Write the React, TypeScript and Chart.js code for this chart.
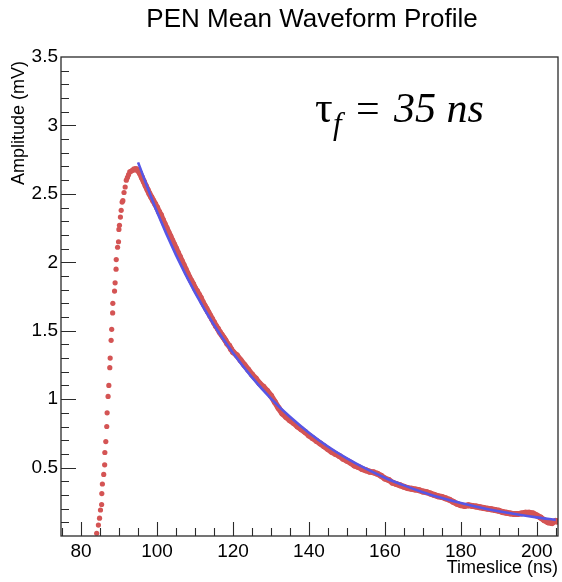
import React, { useEffect, useRef } from 'react';
import { Chart, registerables } from 'chart.js';

Chart.register(...registerables);

// ---- Data ----
// Rising edge and peak samples (ns, mV)
const riseX = [84.1, 84.55, 84.85, 85.1, 85.4, 85.45, 85.6, 85.95, 86.2, 86.25, 86.5, 86.75, 86.85, 87.1, 87.3, 87.55, 87.65, 87.9, 88.05, 88.3, 88.35, 88.8, 88.95, 89.2, 89.25, 89.6, 89.85, 89.95, 90.1, 90.35, 90.55, 90.8, 91.0, 91.3, 91.6, 91.9, 92.2, 92.5, 92.8, 93.1, 93.4, 93.7];
const riseY = [0.02, 0.08, 0.13, 0.19, 0.23, 0.31, 0.38, 0.45, 0.52, 0.61, 0.69, 0.80, 0.90, 1.02, 1.10, 1.23, 1.30, 1.43, 1.51, 1.63, 1.70, 1.79, 1.85, 1.95, 2.02, 2.11, 2.15, 2.24, 2.27, 2.33, 2.38, 2.44, 2.45, 2.51, 2.55, 2.60, 2.62, 2.64, 2.66, 2.665, 2.67, 2.675];

// Decay samples (ns, mV)
const decayX = [
  94, 94.5, 95, 95.5, 96, 96.5, 97, 97.5, 98, 98.5, 99, 99.5, 100,
  100.5, 101, 101.5, 102, 102.5, 103, 103.5, 104, 104.5, 105, 105.5, 106, 106.5, 107, 107.5, 108,
  108.5, 109, 109.5, 110, 110.5, 111, 111.5, 112, 112.5, 113, 113.5, 114, 114.5, 115, 115.5, 116,
  116.5, 117, 117.5, 118, 118.5, 119, 119.5, 120,
  121, 122, 123, 124, 125, 126, 127, 128, 129, 130, 131, 132, 133, 134, 135, 136, 137, 138, 139, 140,
  141, 142, 143, 144, 145, 146, 147, 148, 149, 150, 151, 152, 153, 154, 155, 156, 157, 158, 159, 160,
  161, 162, 163, 164, 165, 166, 167, 168, 169, 170, 171, 172, 173, 174, 175, 176, 177, 178, 179, 180,
  181, 182, 183, 184, 185, 186, 187, 188, 189, 190, 191, 192, 193, 194, 195, 196, 197, 198, 199, 200,
  201, 202, 203, 204, 205, 205.5,
];
const decayY = [
  2.68, 2.68, 2.67, 2.65, 2.62, 2.59, 2.56, 2.53, 2.50, 2.475, 2.45, 2.425, 2.40,
  2.37, 2.345, 2.31, 2.28, 2.25, 2.22, 2.19, 2.16, 2.13, 2.10, 2.07, 2.04, 2.01, 1.98, 1.95, 1.92,
  1.89, 1.865, 1.84, 1.81, 1.79, 1.765, 1.74, 1.71, 1.685, 1.66, 1.635, 1.61, 1.585, 1.56, 1.535, 1.515,
  1.49, 1.47, 1.45, 1.43, 1.405, 1.39, 1.365, 1.345,
  1.32, 1.285, 1.25, 1.215, 1.18, 1.15, 1.115, 1.09, 1.06, 1.025, 0.98, 0.935, 0.895, 0.87, 0.845, 0.825, 0.80, 0.78, 0.76, 0.735,
  0.715, 0.695, 0.675, 0.655, 0.635, 0.615, 0.60, 0.585, 0.565, 0.55, 0.535, 0.515, 0.505, 0.49, 0.48, 0.47, 0.465, 0.455, 0.44, 0.42,
  0.41, 0.39, 0.38, 0.37, 0.36, 0.35, 0.345, 0.34, 0.335, 0.325, 0.32, 0.31, 0.30, 0.29, 0.285, 0.275, 0.265, 0.25, 0.235, 0.225,
  0.22, 0.225, 0.22, 0.215, 0.21, 0.205, 0.20, 0.195, 0.19, 0.185, 0.175, 0.17, 0.165, 0.16, 0.16, 0.165, 0.17, 0.17, 0.165, 0.15,
  0.135, 0.115, 0.10, 0.095, 0.11, 0.105,
];

// Exponential fit curve (tau_f = 35 ns), read at 5 ns steps
const fitX = [95, 100, 105, 110, 115, 120, 125, 130, 135, 140, 145, 150, 155, 160, 165, 170, 175, 180, 185, 190, 195, 200, 205];
const fitY = [2.73, 2.367, 2.052, 1.779, 1.542, 1.337, 1.159, 1.004, 0.871, 0.755, 0.654, 0.567, 0.492, 0.426, 0.370, 0.320, 0.278, 0.241, 0.209, 0.181, 0.157, 0.136, 0.118];

// Axis ticks
const xTickValues = [80, 100, 120, 140, 160, 180, 200];
const yTickValues = [0, 0.5, 1, 1.5, 2, 2.5, 3, 3.5];

const TITLE = 'PEN Mean Waveform Profile';
const X_TITLE = 'Timeslice (ns)';
const Y_TITLE = 'Amplitude (mV)';

const RED = 'rgb(212, 84, 84)';
const BLUE = 'rgb(86, 86, 230)';
const SANS = '"Liberation Sans", Arial, Helvetica, sans-serif';
const SERIF = '"Liberation Serif", "Times New Roman", serif';

const decorPlugin = {
  id: 'decor',
  afterDraw(chart: any) {
    const { ctx, chartArea: a, scales } = chart;
    const x = scales.x;
    const y = scales.y;
    ctx.save();
    // frame
    ctx.strokeStyle = '#2a2a2a';
    ctx.lineWidth = 1.3;
    ctx.strokeRect(a.left, a.top, a.right - a.left, a.bottom - a.top);
    // y ticks (inward), minor every 0.1, major every 0.5
    ctx.lineWidth = 1.1;
    ctx.beginPath();
    for (let k = 1; k < 35; k++) {
      const py = Math.round(y.getPixelForValue(k / 10)) + 0.5;
      const len = k % 5 === 0 ? 15 : 8;
      ctx.moveTo(a.left, py);
      ctx.lineTo(a.left + len, py);
    }
    // x ticks (inward), minor every 5, major every 20
    for (let v = 75; v <= 205; v += 5) {
      const px = Math.round(x.getPixelForValue(v)) + 0.5;
      if (px <= a.left + 1 || px >= a.right - 1) continue;
      const len = v % 20 === 0 ? 14 : 8;
      ctx.moveTo(px, a.bottom);
      ctx.lineTo(px, a.bottom - len);
    }
    ctx.stroke();

    ctx.fillStyle = '#000';
    // title
    ctx.font = `26px ${SANS}`;
    ctx.textAlign = 'center';
    ctx.textBaseline = 'alphabetic';
    ctx.fillText(TITLE, 312, 27);
    // x title
    ctx.font = `18px ${SANS}`;
    ctx.textAlign = 'right';
    ctx.fillText(X_TITLE, a.right, 573);
    // y title
    ctx.save();
    ctx.translate(24, a.top + 4);
    ctx.rotate(-Math.PI / 2);
    ctx.textAlign = 'right';
    ctx.fillText(Y_TITLE, 0, 0);
    ctx.restore();

    // tau_f = 35 ns annotation
    ctx.textAlign = 'left';
    ctx.font = `44px ${SERIF}`;
    ctx.fillText('τ', 315, 122);
    ctx.font = `italic 31px ${SERIF}`;
    ctx.fillText('f', 333, 134);
    ctx.font = `42px ${SERIF}`;
    ctx.fillText('=', 356, 122);
    ctx.font = `italic 42px ${SERIF}`;
    ctx.fillText('35 ns', 394, 122);
    ctx.restore();
  },
};

export default function App() {
  const ref = useRef<HTMLCanvasElement | null>(null);

  useEffect(() => {
    document.body.style.margin = '0';
    const canvas = ref.current;
    if (!canvas) return;
    const chart = new Chart(canvas, {
      type: 'scatter',
      data: {
        datasets: [
          {
            label: 'fit',
            data: fitX.map((v, i) => ({ x: v, y: fitY[i] })),
            showLine: true,
            borderColor: BLUE,
            borderWidth: 2.6,
            pointRadius: 0,
            cubicInterpolationMode: 'monotone',
            order: 0,
          },
          {
            label: 'decay',
            data: decayX.map((v, i) => ({ x: v, y: decayY[i] })),
            showLine: true,
            borderColor: RED,
            borderWidth: 6,
            pointRadius: 3,
            pointBorderWidth: 0,
            pointBackgroundColor: RED,
            order: 1,
          },
          {
            label: 'rise',
            data: riseX.map((v, i) => ({ x: v, y: riseY[i] })),
            showLine: false,
            pointRadius: 2.6,
            pointBorderWidth: 0,
            pointBackgroundColor: RED,
            order: 2,
          },
        ],
      } as any,
      options: {
        animation: false,
        responsive: false,
        devicePixelRatio: 1,
        events: [],
        layout: { padding: { left: 0, right: 4, top: 57, bottom: 0 } },
        plugins: { legend: { display: false }, tooltip: { enabled: false }, title: { display: false } },
        scales: {
          x: {
            type: 'linear',
            min: 74.7,
            max: 205.6,
            grid: { display: false, drawTicks: false, tickLength: 0 },
            border: { display: false },
            afterBuildTicks: (s: any) => { s.ticks = xTickValues.map((v) => ({ value: v })); },
            afterFit: (s: any) => { s.height = 46; },
            ticks: {
              autoSkip: false,
              maxRotation: 0,
              padding: 4,
              color: '#000',
              font: { size: 19, family: SANS },
              callback: (v: any) => String(v),
            },
          },
          y: {
            type: 'linear',
            min: 0,
            max: 3.5,
            grid: { display: false, drawTicks: false, tickLength: 0 },
            border: { display: false },
            afterBuildTicks: (s: any) => { s.ticks = yTickValues.map((v) => ({ value: v })); },
            afterFit: (s: any) => { s.width = 61; },
            ticks: {
              autoSkip: false,
              padding: 3,
              color: '#000',
              font: { size: 19, family: SANS },
              callback: (v: any) => (v === 0 ? '' : String(v)),
            },
          },
        },
      } as any,
      plugins: [decorPlugin],
    });
    return () => chart.destroy();
  }, []);

  return (
    <canvas
      ref={ref}
      width={562}
      height={582}
      style={{ position: 'fixed', left: 0, top: 0, width: 562, height: 582, background: '#fff' }}
    />
  );
}
